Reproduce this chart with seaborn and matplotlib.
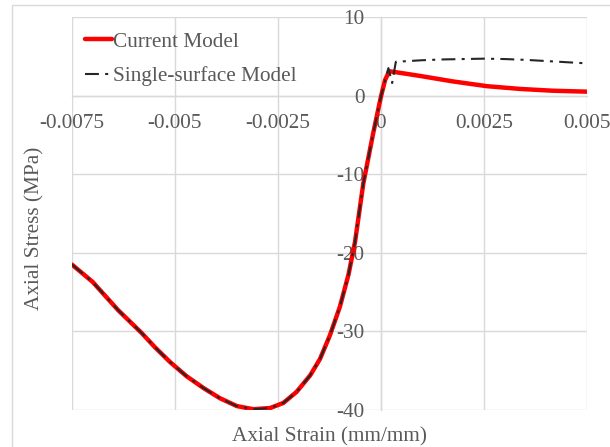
import matplotlib
matplotlib.use("Agg")
import matplotlib.pyplot as plt
import seaborn as sns
import pandas as pd

# ---------------- data ----------------
strain_current = [-0.0075, -0.0070, -0.00638, -0.00581, -0.00549, -0.00512, -0.00472,
                  -0.00431, -0.00391, -0.0035, -0.0031, -0.00269, -0.00237, -0.00205,
                  -0.00172, -0.00148, -0.00124, -0.0010, -0.00079, -0.00063, -0.00043,
                  -0.00019, 0.0, 0.0001, 0.0002, 0.00052, 0.00095, 0.00175, 0.00257,
                  0.00337, 0.00417, 0.0050]
stress_current = [-21.5, -23.7, -27.3, -30.2, -32.0, -33.9, -35.7,
                  -37.2, -38.5, -39.5, -39.9, -39.75, -39.1, -37.7,
                  -35.6, -33.5, -30.5, -26.9, -22.8, -18.6, -11.2,
                  -4.8, -0.1, 2.0, 3.1, 2.85, 2.5, 1.8, 1.2,
                  0.85, 0.62, 0.5]

strain_single = [-0.0075, -0.0070, -0.00638, -0.00581, -0.00549, -0.00512, -0.00472,
                 -0.00431, -0.00391, -0.0035, -0.0031, -0.00269, -0.00237, -0.00205,
                 -0.00172, -0.00148, -0.00124, -0.0010, -0.00079, -0.00063, -0.00043,
                 -0.00019, 0.0, 0.0001, 0.00018, 0.00027, 0.00036, 0.0010, 0.0015,
                 0.0020, 0.0025, 0.0030, 0.0035, 0.0040, 0.0045, 0.0050]
stress_single = [-21.5, -23.7, -27.3, -30.2, -32.0, -33.9, -35.7,
                 -37.2, -38.5, -39.5, -39.9, -39.75, -39.1, -37.7,
                 -35.6, -33.5, -30.5, -26.9, -22.8, -18.6, -11.2,
                 -4.8, -0.1, 2.0, 3.5, 1.6, 4.3, 4.5, 4.6,
                 4.65, 4.7, 4.65, 4.55, 4.4, 4.25, 4.1]

x_ticks = [-0.0075, -0.005, -0.0025, 0, 0.0025, 0.005]
x_tick_labels = ["-0.0075", "-0.005", "-0.0025", "0", "0.0025", "0.005"]
y_ticks = [-40, -30, -20, -10, 0, 10]
y_tick_labels = ["-40", "-30", "-20", "-10", "0", "10"]

series_names = ["Current Model", "Single-surface Model"]

# ---------------- style ----------------
sns.set_theme(style="white")
plt.rcParams['font.family'] = ['Liberation Serif', 'DejaVu Serif']
plt.rcParams['lines.scale_dashes'] = False

grid_c = "#d9d9d9"
text_c = "#595959"
fs = 15.3

fig = plt.figure(figsize=(6.10, 4.47), dpi=100)
ax = fig.add_axes([72 / 610, 1 - 410 / 447, 515 / 610, 393 / 447])

df_cur = pd.DataFrame({"strain": strain_current, "stress": stress_current})
df_sin = pd.DataFrame({"strain": strain_single, "stress": stress_single})

sns.lineplot(data=df_cur, x="strain", y="stress", ax=ax, color="#ff0000",
             linewidth=3.2, sort=False, estimator=None, label=series_names[0], zorder=3)
sns.lineplot(data=df_sin, x="strain", y="stress", ax=ax, color="#262626",
             linewidth=1.5, sort=False, estimator=None, label=series_names[1], zorder=4,
             linestyle=(0, (10, 4.5, 2.2, 4.5)))

ax.set_xlim(-0.0075, 0.005)
ax.set_ylim(-40, 10)
ax.set_xticks(x_ticks)
ax.set_xticklabels(x_tick_labels)
ax.set_yticks(y_ticks)
ax.set_yticklabels(y_tick_labels)

ax.grid(True, color=grid_c, linewidth=1.0)
ax.set_axisbelow(True)
for s in ["top", "right"]:
    ax.spines[s].set_visible(False)
for s in ["left", "bottom"]:
    ax.spines[s].set_position(("data", 0))
    ax.spines[s].set_color(grid_c)
    ax.spines[s].set_linewidth(1.0)
    ax.spines[s].set_zorder(0.5)

ax.tick_params(axis="x", length=0, pad=13, labelsize=fs, labelcolor=text_c)
ax.tick_params(axis="y", length=0, pad=12, labelsize=fs, labelcolor=text_c)

ax.set_xlabel("Axial Strain (mm/mm)", fontsize=fs, color=text_c)
ax.set_ylabel("Axial Stress (MPa)", fontsize=fs, color=text_c)
ax.xaxis.set_label_coords(0.5, -0.045)
ax.yaxis.set_label_coords(-0.054, 0.463)

leg = ax.legend(loc="upper left", bbox_to_anchor=(0.0, 0.995), frameon=False,
                fontsize=fs, handlelength=1.3, handletextpad=0.05,
                labelspacing=0.68, borderaxespad=0.2)
for t in leg.get_texts():
    t.set_color(text_c)

# chart-area border
fig.add_artist(plt.Rectangle((12 / 610, -0.01), 1.02, 1 - 5 / 447 + 0.01,
                             transform=fig.transFigure, fill=False,
                             edgecolor=grid_c, linewidth=1.0))

fig.savefig("out.png", dpi=100)
